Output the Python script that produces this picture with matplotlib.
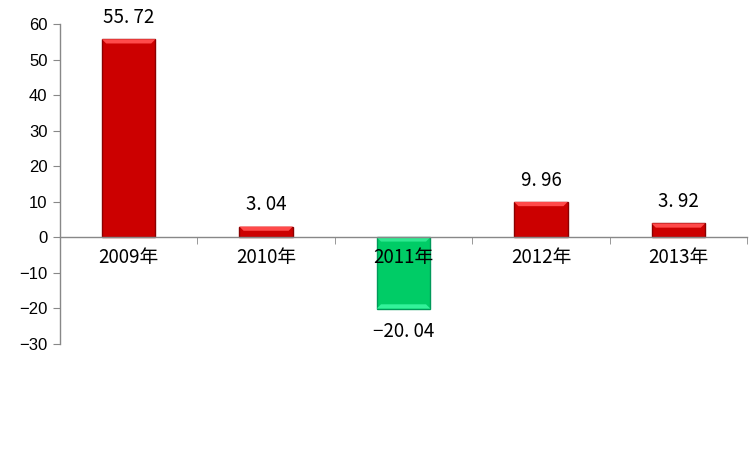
import matplotlib
matplotlib.use('Agg')
import matplotlib.pyplot as plt
from matplotlib.patches import Polygon
import numpy as np

years = ['2009年', '2010年', '2011年', '2012年', '2013年']
values = [55.72, 3.04, -20.04, 9.96, 3.92]
labels = ['55. 72', '3. 04', '\u221220. 04', '9. 96', '3. 92']

plt.rcParams['font.family'] = ['Noto Sans CJK SC', 'DejaVu Sans']

fig = plt.figure(figsize=(7.5, 4.51), dpi=100)
ax = fig.add_axes([0.08, 0.2373, 0.916, 0.7095])

# move the x axis onto y=0 first (this resets tick settings)
ax.spines['bottom'].set_position(('data', 0))
for s in ['top', 'right']:
    ax.spines[s].set_visible(False)
for s in ['left', 'bottom']:
    ax.spines[s].set_color('#888888')
    ax.spines[s].set_linewidth(1.0)

x = np.arange(len(years))
face = ['#CC0000' if v >= 0 else '#00CC66' for v in values]
edge = ['#8B0000' if v >= 0 else '#00995A' for v in values]
bars = ax.bar(x, values, width=0.39, color=face, edgecolor=edge, linewidth=1.0, zorder=1)

# bevel highlight on the outer end of each bar
for b, v in zip(bars, values):
    x0, w = b.get_x(), b.get_width()
    top = v
    d = 1.2 if v >= 0 else -1.2
    inset = w * 0.08
    hi = '#FF4A4A' if v >= 0 else '#33F29A'
    ax.add_patch(Polygon([(x0, top), (x0 + w, top), (x0 + w - inset, top - d),
                          (x0 + inset, top - d)], closed=True, color=hi,
                         lw=0, zorder=1.2))
    if v < 0:
        ax.add_patch(Polygon([(x0, 0), (x0 + w, 0), (x0 + w - inset, -1.2),
                              (x0 + inset, -1.2)], closed=True, color='#2EE890',
                             lw=0, zorder=1.2))

for xi, v, t in zip(x, values, labels):
    off = 6.1 if v >= 0 else -6.5
    ax.text(xi, v + off, t, ha='center', va='center', fontsize=13.5, color='black')

ax.set_xlim(-0.5, 4.5)
ax.set_ylim(-30, 60)
ax.set_yticks(np.arange(-30, 61, 10))
ax.set_yticklabels([f'{t}' if t >= 0 else f'\u2212{abs(t)}' for t in range(-30, 61, 10)],
                   family=['Liberation Sans', 'DejaVu Sans'], fontsize=12)

ax.set_xticks(x)
ax.set_xticklabels(years, fontsize=13.5)
ax.set_xticks(np.arange(-0.5, 5, 1), minor=True)
ax.tick_params(axis='x', which='major', length=0, pad=7, labelsize=13.5)
ax.tick_params(axis='x', which='minor', length=5, color='#888888', direction='out')
ax.tick_params(axis='y', length=5, color='#888888', pad=4)

plt.savefig('out.png', dpi=100)
